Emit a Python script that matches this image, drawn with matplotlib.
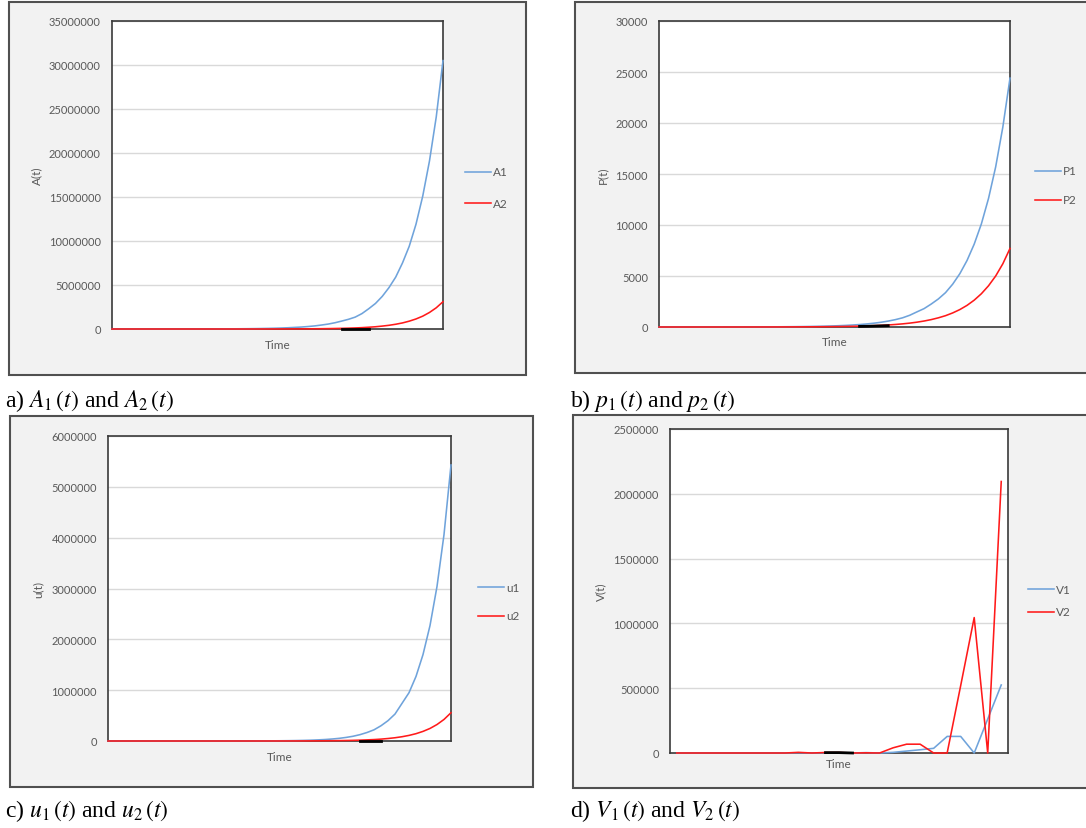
import matplotlib
matplotlib.use("Agg")
import matplotlib.pyplot as plt
from matplotlib.patches import Rectangle
from matplotlib.lines import Line2D
from matplotlib.ticker import FixedLocator, FuncFormatter

# ---------------- data ----------------
# panel a: A1, A2 (millions), 50 time steps
A1_m = [0.0003, 0.0004, 0.0005, 0.0006, 0.0008, 0.0010, 0.0012, 0.0015, 0.0019, 0.0024,
        0.0031, 0.0039, 0.0050, 0.0063, 0.0080, 0.010, 0.013, 0.017, 0.021, 0.027,
        0.034, 0.043, 0.055, 0.069, 0.087, 0.11, 0.14, 0.18, 0.22, 0.28,
        0.35, 0.45, 0.56, 0.71, 0.90, 1.10, 1.35, 1.75, 2.3, 2.9,
        3.7, 4.7, 5.9, 7.5, 9.4, 11.9, 15.1, 19.1, 24.1, 30.5]
A2_m = [0.00001, 0.00002, 0.00002, 0.00003, 0.00004, 0.00005, 0.00007, 0.00009, 0.00011, 0.00014,
        0.00018, 0.00023, 0.0003, 0.0004, 0.0005, 0.0006, 0.0008, 0.001, 0.0013, 0.0017,
        0.0022, 0.0028, 0.0036, 0.0047, 0.006, 0.0077, 0.0099, 0.0127, 0.016, 0.021,
        0.027, 0.035, 0.044, 0.057, 0.073, 0.094, 0.12, 0.155, 0.20, 0.255,
        0.33, 0.42, 0.54, 0.69, 0.89, 1.14, 1.46, 1.88, 2.41, 3.1]
A_black_idx = [34, 35, 36, 37, 38]
A_black_m = [0.0, 0.0, 0.0, 0.0, 0.0]

# panel b: P1, P2
P1 = [0.5, 0.7, 0.8, 1.0, 1.3, 1.6, 2, 2.5, 3, 4,
      5, 6, 7, 9, 11, 14, 17, 21, 27, 33,
      41, 52, 64, 80, 100, 124, 155, 193, 240, 300,
      373, 465, 580, 722, 900, 1150, 1480, 1800, 2250, 2750,
      3370, 4200, 5230, 6520, 8120, 10100, 12600, 15700, 19600, 24400]
P2 = [0.2, 0.25, 0.3, 0.4, 0.5, 0.6, 0.75, 0.9, 1.2, 1.4,
      1.8, 2.2, 2.7, 3.4, 4.2, 5.2, 6.5, 8, 10, 12,
      15, 19, 23, 29, 36, 44, 55, 68, 85, 105,
      130, 161, 200, 248, 307, 380, 472, 585, 725, 900,
      1110, 1380, 1710, 2120, 2630, 3260, 4040, 5000, 6200, 7700]
P_black_idx = [28, 29, 30, 31, 32]
P_black = [60, 70, 90, 110, 130]

# panel c: u1, u2 (millions)
u1_m = [0.000004, 0.000005, 0.000006, 0.000008, 0.00001, 0.000015, 0.00002, 0.00003, 0.00004, 0.00005,
        0.00007, 0.00009, 0.00012, 0.00016, 0.00021, 0.00028, 0.00037, 0.0005, 0.00067, 0.0009,
        0.0012, 0.0016, 0.0021, 0.0028, 0.0038, 0.0051, 0.0068, 0.009, 0.012, 0.016,
        0.022, 0.029, 0.039, 0.052, 0.070, 0.093, 0.125, 0.167, 0.22, 0.30,
        0.40, 0.53, 0.74, 0.95, 1.27, 1.70, 2.27, 3.04, 4.06, 5.43]
u2_m = [0.000001, 0.000001, 0.000001, 0.000002, 0.000002, 0.000003, 0.000004, 0.000005, 0.00001, 0.00001,
        0.00001, 0.00002, 0.00002, 0.00003, 0.00004, 0.00006, 0.00007, 0.0001, 0.00013, 0.00017,
        0.00022, 0.00028, 0.00037, 0.00049, 0.00064, 0.00084, 0.0011, 0.0015, 0.0019, 0.0025,
        0.0033, 0.0043, 0.0056, 0.0073, 0.0096, 0.0126, 0.0165, 0.022, 0.028, 0.037,
        0.049, 0.064, 0.084, 0.110, 0.144, 0.189, 0.247, 0.324, 0.424, 0.556]
u_black_idx = [36, 37, 38, 39]
u_black_m = [0.0, 0.0, 0.0, 0.0]

# panel d: V1, V2, 25 time steps
V1 = [0, 0, 0, 0, 0, 0, 0, 0, 0, 2000,
      0, 1000, 2000, 0, 3000, 0, 5000, 15000, 25000, 36000,
      128000, 128000, 0, 262000, 525000]
V2 = [0, 0, 0, 0, 0, 0, 0, 0, 0, 5000,
      0, 4000, 4000, 0, 1500, 0, 40000, 68000, 68000, 0,
      0, 520000, 1045000, 0, 2095000]
V_black_idx = [11, 12, 13]
V_black = [3000, 3000, 0]

# ---------------- style ----------------
W, H = 1086, 829
plt.rcParams['font.family'] = ['Lato', 'DejaVu Sans']
plt.rcParams['mathtext.fontset'] = 'stix'

BLUE = '#6fa3db'
RED = '#ff1a1a'
TXT = '#595959'
GRID = '#d9d9d9'

fig = plt.figure(figsize=(W / 100, H / 100), dpi=100)
fig.patch.set_facecolor('white')


def fx(x):
    return x / W


def fy(y):
    return 1 - y / H


def panel(box_px, ax_px, series, labels, ylim, ystep, ylabel, ylabel_x,
          time_y, leg_x, leg_ys, caption, cap_xy, black, xlim):
    l, t, r, b = box_px
    fig.patches.append(Rectangle((fx(l), fy(b)), fx(r) - fx(l), fy(t) - fy(b),
                                 transform=fig.transFigure, facecolor='#f2f2f2',
                                 edgecolor='#505050', lw=1.5, zorder=-5))
    al, at, ar, ab = ax_px
    ax = fig.add_axes([fx(al), fy(ab), fx(ar) - fx(al), fy(at) - fy(ab)])
    ax.set_zorder(2)
    ax.set_facecolor('white')
    colors = [BLUE, RED]
    for (xs, ys), c in zip(series, colors):
        ax.plot(xs, ys, color=c, lw=1.15, zorder=3, clip_on=False)
    bx, by = black
    ax.plot(bx, by, color='black', lw=2.0, zorder=4, clip_on=False)
    ax.set_xlim(*xlim)
    ax.set_ylim(*ylim)
    ticks = list(range(0, int(ylim[1]) + 1, ystep))
    ax.yaxis.set_major_locator(FixedLocator(ticks))
    ax.yaxis.set_major_formatter(FuncFormatter(lambda v, p: '%d' % round(v)))
    ax.set_xticks([])
    ax.tick_params(axis='y', length=0, pad=8, labelsize=8, labelcolor=TXT)
    ax.grid(axis='y', color=GRID, lw=1.0)
    ax.set_axisbelow(True)
    for s in ax.spines.values():
        s.set_color('#3a3a3a')
        s.set_linewidth(1.2)
    # y label
    fig.text(fx(ylabel_x), fy((at + ab) / 2), ylabel, rotation=90, ha='center',
             va='center', fontsize=8.5, color=TXT, zorder=5)
    # x label
    fig.text(fx((al + ar) / 2), fy(time_y), 'Time', ha='center', va='center',
             fontsize=8.5, color=TXT, zorder=5)
    # legend
    for lab, c, ly in zip(labels, colors, leg_ys):
        fig.add_artist(Line2D([fx(leg_x), fx(leg_x + 26)], [fy(ly), fy(ly)],
                              transform=fig.transFigure, color=c, lw=1.15, zorder=5))
        fig.text(fx(leg_x + 28), fy(ly), lab, ha='left', va='center',
                 fontsize=8.5, color=TXT, zorder=5)
    # caption
    fig.text(fx(cap_xy[0]), fy(cap_xy[1]), caption, ha='left', va='center',
             fontsize=17, family='Liberation Serif', color='black', zorder=5)
    return ax


xa = list(range(len(A1_m)))
A1 = [v * 1e6 for v in A1_m]
A2 = [v * 1e6 for v in A2_m]
panel((9, 3, 526, 376), (112, 22, 443, 330),
      [(xa, A1), (xa, A2)], ['A1', 'A2'], (0, 35000000), 5000000, 'A(t)', 37,
      346, 465, [173, 204], r'a) $A_1\,(t)$ and $A_2\,(t)$', (5, 401),
      (A_black_idx, [v * 1e6 for v in A_black_m]), (0, len(A1_m) - 1))

xb = list(range(len(P1)))
panel((575, 3, 1092, 374), (659, 22, 1010, 328),
      [(xb, P1), (xb, P2)], ['P1', 'P2'], (0, 30000), 5000, 'P(t)', 603,
      343, 1035, [172, 201], r'b) $p_1\,(t)$ and $p_2\,(t)$', (570, 401),
      (P_black_idx, P_black), (0, len(P1) - 1))

xc = list(range(len(u1_m)))
u1 = [v * 1e6 for v in u1_m]
u2 = [v * 1e6 for v in u2_m]
panel((10, 417, 533, 788), (108, 437, 451, 742),
      [(xc, u1), (xc, u2)], ['u1', 'u2'], (0, 6000000), 1000000, 'u(t)', 38,
      758, 478, [588, 617], r'c) $u_1\,(t)$ and $u_2\,(t)$', (5, 811),
      (u_black_idx, [v * 1e6 for v in u_black_m]), (0, len(u1_m) - 1))

xd = list(range(len(V1)))
panel((573, 416, 1092, 789), (670, 430, 1008, 754),
      [(xd, V1), (xd, V2)], ['V1', 'V2'], (0, 2500000), 500000, 'V(t)', 601,
      765, 1028, [590, 613], r'd) $V_1\,(t)$ and $V_2\,(t)$', (570, 811),
      (V_black_idx, V_black), (-0.5, len(V1) - 0.5))

fig.savefig('out.png', dpi=100)
